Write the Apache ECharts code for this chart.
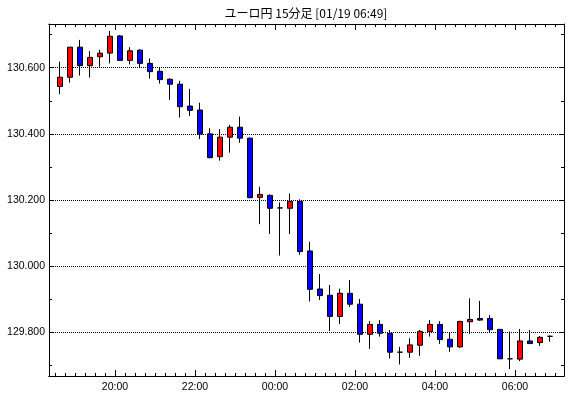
<!DOCTYPE html>
<html><head><meta charset="utf-8">
<script src="https://cdn.jsdelivr.net/npm/echarts@6/dist/echarts.min.js"></script>
<style>html,body{margin:0;padding:0;background:#fff}#c{width:570px;height:398px}</style>
</head><body><div id="c"></div>
<script>
const times = ['18:30','18:45','19:00','19:15','19:30','19:45','20:00','20:15','20:30','20:45',
 '21:00','21:15','21:30','21:45','22:00','22:15','22:30','22:45','23:00','23:15',
 '23:30','23:45','00:00','00:15','00:30','00:45','01:00','01:15','01:30','01:45',
 '02:00','02:15','02:30','02:45','03:00','03:15','03:30','03:45','04:00','04:15',
 '04:30','04:45','05:00','05:15','05:30','05:45','06:00','06:15','06:30','06:45'];
const opens = [130.543,130.571,130.662,130.606,130.633,130.644,130.696,130.622,130.653,130.613,
 130.589,130.565,130.550,130.484,130.472,130.400,130.331,130.390,130.420,130.387,
 130.208,130.214,130.176,130.175,130.196,130.046,129.931,129.912,129.848,129.918,
 129.885,129.794,129.824,129.797,129.740,129.740,129.761,129.802,129.824,129.779,
 129.756,129.832,129.842,129.842,129.809,129.720,129.719,129.774,129.769,129.788];
const closes = [130.571,130.662,130.606,130.631,130.644,130.695,130.622,130.651,130.613,130.588,
 130.564,130.550,130.482,130.471,130.399,130.328,130.390,130.420,130.387,130.207,
 130.217,130.175,130.176,130.196,130.044,129.930,129.911,129.848,129.918,129.885,
 129.794,129.824,129.797,129.740,129.740,129.762,129.803,129.824,129.778,129.756,
 129.833,129.839,129.837,129.808,129.720,129.720,129.774,129.766,129.785,129.788];
const lows = [130.520,130.555,130.576,130.570,130.603,130.613,130.622,130.610,130.601,130.567,
 130.552,130.502,130.449,130.454,130.384,130.326,130.319,130.343,130.373,130.205,
 130.127,130.097,130.032,130.097,130.034,129.893,129.898,129.804,129.825,129.877,
 129.769,129.750,129.787,129.721,129.703,129.723,129.729,129.787,129.765,129.741,
 129.753,129.795,129.835,129.799,129.720,129.689,129.713,129.765,129.759,129.772];
const highs = [130.618,130.662,130.684,130.650,130.654,130.711,130.699,130.662,130.656,130.628,
 130.600,130.568,130.560,130.536,130.494,130.417,130.414,130.427,130.452,130.389,
 130.240,130.217,130.193,130.220,130.202,130.074,129.976,129.943,129.932,129.958,
 129.901,129.834,129.837,129.807,129.756,129.782,129.807,129.837,129.834,129.799,
 129.835,129.903,129.895,129.852,129.809,129.802,129.810,129.807,129.789,129.791];
const tickLabels = ['20:00','22:00','00:00','02:00','04:00','06:00'];
const titleText = 'ユーロ円 15分足 [01/19 06:49]';

const data = times.map((t, i) => [i, opens[i], closes[i], lows[i], highs[i]]);
const boundaries = times.map((t, i) => i - 0.5).concat([times.length - 0.5]);
const majorPos = tickLabels.map(l => times.indexOf(l) - 0.5);
const FONT = 'Liberation Sans';
const XMIN = -1.1, XMAX = 50.4, YMIN = 129.668, YMAX = 130.732;

function xAx(pos, major, labels) {
  return {
    type: 'value', position: pos, min: XMIN, max: XMAX,
    axisLine: {show: true, onZero: false, lineStyle: {color: '#000', width: 1}},
    axisTick: {show: true, inside: true, length: major ? 6 : 3,
      customValues: major ? majorPos : boundaries, lineStyle: {color: '#000'}},
    axisLabel: labels ? {show: true, customValues: majorPos, color: '#000', fontFamily: FONT, fontSize: 10.5, margin: 6,
      formatter: v => tickLabels[majorPos.findIndex(p => Math.abs(p - v) < 1e-6)] || ''} : {show: false},
    splitLine: {show: false}
  };
}
function yAx(pos, labels) {
  return {
    type: 'value', position: pos, min: YMIN, max: YMAX, scale: true,
    axisLine: {show: true, onZero: false, lineStyle: {color: '#000', width: 1}},
    axisTick: {show: true, inside: true, length: 5, lineStyle: {color: '#000'}},
    minorTick: {show: true, splitNumber: 2, length: 3, lineStyle: {color: '#000'}},
    axisLabel: labels ? {show: true, color: '#000', fontFamily: FONT, fontSize: 10.5, margin: 4,
      showMinLabel: false, showMaxLabel: false, formatter: v => v.toFixed(3)} : {show: false},
    splitLine: labels ? {show: true, lineStyle: {color: '#000', type: [1, 1], width: 1}} : {show: false}
  };
}

const chart = echarts.init(document.getElementById('c'), null, {renderer: 'canvas'});
chart.setOption({
  animation: false,
  backgroundColor: '#fff',
  grid: {left: 49, right: 6, top: 24, bottom: 22, containLabel: false},
  graphic: [{type: 'text', left: null, x: 306, y: 13,
    style: {text: titleText, fill: '#000', font: '12px "Noto Sans CJK JP"', textAlign: 'center', textVerticalAlign: 'middle'}}],
  xAxis: [xAx('bottom', false, false), xAx('bottom', true, true), xAx('top', false, false), xAx('top', true, false)],
  yAxis: [yAx('left', true), yAx('right', false)],
  series: [{
    type: 'candlestick', xAxisIndex: 0, yAxisIndex: 0,
    data: data, encode: {x: 0, y: [1, 2, 3, 4]},
    barWidth: 6,
    itemStyle: {color: '#ff0000', color0: '#0000ff', borderColor: '#000', borderColor0: '#000', borderColorDoji: '#000', borderWidth: 1}
  }]
});
</script></body></html>
